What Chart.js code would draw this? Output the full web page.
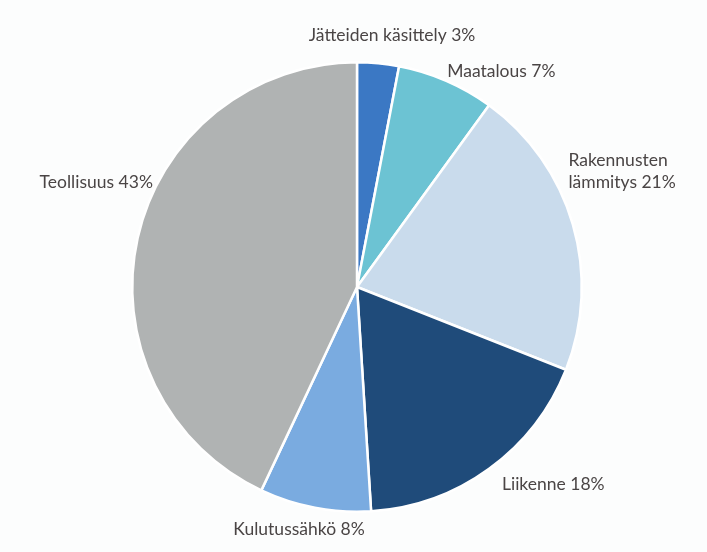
<!DOCTYPE html>
<html>
<head>
<meta charset="utf-8">
<script src="https://cdn.jsdelivr.net/npm/chart.js@4/dist/chart.umd.min.js"></script>
<style>
  html, body { margin: 0; padding: 0; background: #fcfdfd; }
  #wrap { width: 707px; height: 552px; }
</style>
</head>
<body>
<div id="wrap"><canvas id="pieChart" width="707" height="552"></canvas></div>
<script>
// päästöt sektoreittain (%)
const categories = ["Jätteiden käsittely", "Maatalous", "Rakennusten lämmitys", "Liikenne", "Kulutussähkö", "Teollisuus"];
const shares = [3, 7, 21, 18, 8, 43];
// label text lines (Rakennusten label wraps in the original)
const labelLines = [
    ["Jätteiden käsittely 3%"],
    ["Maatalous 7%"],
    ["Rakennusten", "lämmitys 21%"],
    ["Liikenne 18%"],
    ["Kulutussähkö 8%"],
    ["Teollisuus 43%"]
];

const sliceColors = ["#3b78c4", "#6cc3d3", "#c9dbec", "#1f4b7a", "#7aabe0", "#b0b3b3"];
// small hand nudges so labels sit where the original has them
const labelNudge = [[13, -7], [-3, 0], [-14, -50], [7, 7], [-14, 1], [25, -53]];

const outsideLabels = {
    id: "outsideLabels",
    afterDatasetsDraw(chart) {
        const ctx = chart.ctx;
        const meta = chart.getDatasetMeta(0);
        const fontSize = 17.5;
        const lineH = 22;
        ctx.save();
        ctx.font = fontSize + "px Lato, 'Open Sans', sans-serif";
        ctx.fillStyle = "#4a4545";
        ctx.textBaseline = "middle";
        meta.data.forEach((arc, i) => {
            const p = arc.getProps(["x", "y", "startAngle", "endAngle", "outerRadius"], true);
            const mid = (p.startAngle + p.endAngle) / 2;
            const r = p.outerRadius + 10;
            const cos = Math.cos(mid), sin = Math.sin(mid);
            let ax = p.x + cos * r;
            let ay = p.y + sin * r;
            const lines = labelLines[i];
            const h = lines.length * lineH;
            let align = "center";
            if (cos > 0.3) align = "left";
            else if (cos < -0.3) align = "right";
            else ay += (sin > 0 ? 1 : -1) * h / 2;
            ax += labelNudge[i][0];
            ay += labelNudge[i][1];
            ctx.textAlign = align;
            lines.forEach((t, k) => {
                ctx.fillText(t, ax, ay - h / 2 + lineH / 2 + k * lineH);
            });
        });
        ctx.restore();
    }
};

new Chart(document.getElementById("pieChart").getContext("2d"), {
    type: "pie",
    data: {
        labels: categories,
        datasets: [{
            data: shares,
            backgroundColor: sliceColors,
            borderColor: "#ffffff",
            borderWidth: 2.5
        }]
    },
    options: {
        responsive: false,
        animation: false,
        layout: { padding: { top: 61, bottom: 39, left: 131, right: 124 } },
        plugins: {
            legend: { display: false },
            tooltip: { enabled: false }
        }
    },
    plugins: [outsideLabels]
});
</script>
</body>
</html>
